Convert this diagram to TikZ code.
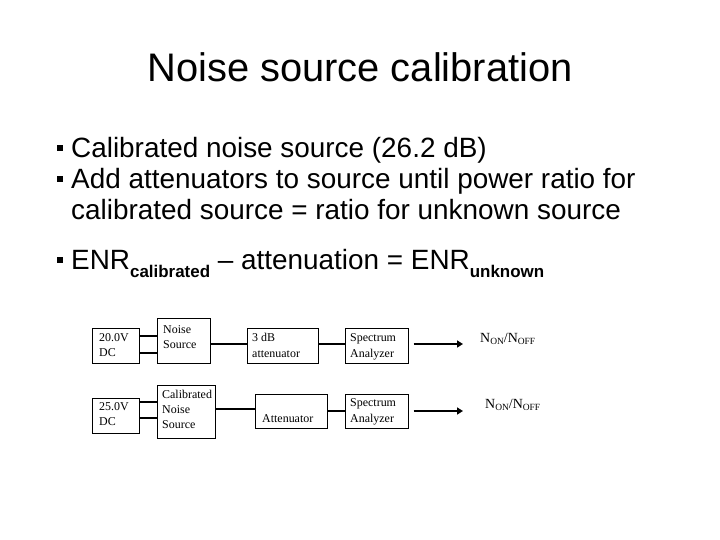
\documentclass[tikz,border=0pt]{standalone}
\usepackage{fontspec}
\setmainfont{Liberation Sans}
\newfontfamily\tms{Liberation Serif}
\usetikzlibrary{arrows.meta}
\begin{document}
\begin{tikzpicture}[x=1bp,y=-1bp,
  box/.style={draw, line width=1bp, inner sep=0pt},
  bt/.style={font=\tms\fontsize{12}{14}\selectfont, anchor=base west, inner sep=0pt},
  wire/.style={line width=1.1bp},
  outarrow/.style={line width=2.6bp, -{Triangle[length=6bp,width=7bp]}},
  bullettxt/.style={font=\fontsize{28}{33}\selectfont, anchor=base west, inner sep=0pt},
  bulletsq/.style={fill=black, minimum size=6.5bp, inner sep=0pt},
  ratio/.style={font=\tms\fontsize{14}{16}\selectfont, anchor=base west, inner sep=0pt}
]
\useasboundingbox[fill=white] (0,0) rectangle (720,540);

% title
\node[font=\fontsize{40}{48}\selectfont, anchor=base, inner sep=0pt] (title) at (360,82) {Noise source calibration};

% bullets
\node[bulletsq] (b1) at (60,148) {};
\node[bullettxt] (t1) at (71,158) {Calibrated noise source (26.2 dB)};
\node[bulletsq] (b2) at (60,179) {};
\node[bullettxt] (t2) at (71,189) {Add attenuators to source until power ratio for};
\node[bullettxt] (t3) at (71,220) {calibrated source = ratio for unknown source};
\node[bulletsq] (b3) at (60,260) {};
\node[bullettxt] (t4) at (71,270) {ENR\raisebox{-8bp}{\fontsize{17}{20}\selectfont\bfseries calibrated} -- attenuation = ENR\raisebox{-8bp}{\fontsize{17}{20}\selectfont\bfseries unknown}};

% row 1 boxes
\node[box, minimum width=47bp, minimum height=35bp] (dc1) at (115.5,345.5) {};
\node[box, minimum width=53bp, minimum height=45bp] (ns1) at (183.5,340.5) {};
\node[box, minimum width=71bp, minimum height=35bp] (at1) at (282.5,345.5) {};
\node[box, minimum width=63bp, minimum height=35bp] (sa1) at (376.5,345.5) {};

\node[bt] (dc1a) at (99,341) {20.0V};
\node[bt] (dc1b) at (99,356) {DC};
\node[bt] (ns1a) at (163,333) {Noise};
\node[bt] (ns1b) at (163,348) {Source};
\node[bt] (at1a) at (252,341) {3 dB};
\node[bt] (at1b) at (252,357) {attenuator};
\node[bt] (sa1a) at (350,341) {Spectrum};
\node[bt] (sa1b) at (350,357) {Analyzer};

\draw[wire] (dc1.east |- 0,336) -- (ns1.west |- 0,336);
\draw[wire] (dc1.east |- 0,353) -- (ns1.west |- 0,353);
\draw[wire] (ns1.east |- 0,344) -- (at1.west |- 0,344);
\draw[wire] (at1.east |- 0,344) -- (sa1.west |- 0,344);
\coordinate (o1) at (463,344);
\draw[outarrow] (sa1.east |- o1) ++(5,0) -- (o1);
\node[ratio] (r1) at (480,342) {N\raisebox{-2.5bp}{\fontsize{9.5}{11}\selectfont ON}/N\raisebox{-2.5bp}{\fontsize{9.5}{11}\selectfont OFF}};

% row 2 boxes
\node[box, minimum width=47bp, minimum height=35bp] (dc2) at (115.5,415.5) {};
\node[box, minimum width=58bp, minimum height=53bp] (ns2) at (186,411.5) {};
\node[box, minimum width=72bp, minimum height=34bp] (at2) at (291,411) {};
\node[box, minimum width=63bp, minimum height=34bp] (sa2) at (376.5,411) {};

\node[bt] (dc2a) at (99,410) {25.0V};
\node[bt] (dc2b) at (99,425) {DC};
\node[bt] (ns2a) at (162,398) {Calibrated};
\node[bt] (ns2b) at (162,413) {Noise};
\node[bt] (ns2c) at (162,428) {Source};
\node[bt] (at2a) at (262,422) {Attenuator};
\node[bt] (sa2a) at (350,406) {Spectrum};
\node[bt] (sa2b) at (350,422) {Analyzer};

\draw[wire] (dc2.east |- 0,402) -- (ns2.west |- 0,402);
\draw[wire] (dc2.east |- 0,418) -- (ns2.west |- 0,418);
\draw[wire] (ns2.east |- 0,409) -- (at2.west |- 0,409);
\draw[wire] (at2.east |- 0,411) -- (sa2.west |- 0,411);
\coordinate (o2) at (463,411);
\draw[outarrow] (sa2.east |- o2) ++(5,0) -- (o2);
\node[ratio] (r2) at (485,408) {N\raisebox{-2.5bp}{\fontsize{9.5}{11}\selectfont ON}/N\raisebox{-2.5bp}{\fontsize{9.5}{11}\selectfont OFF}};
\end{tikzpicture}
\end{document}
